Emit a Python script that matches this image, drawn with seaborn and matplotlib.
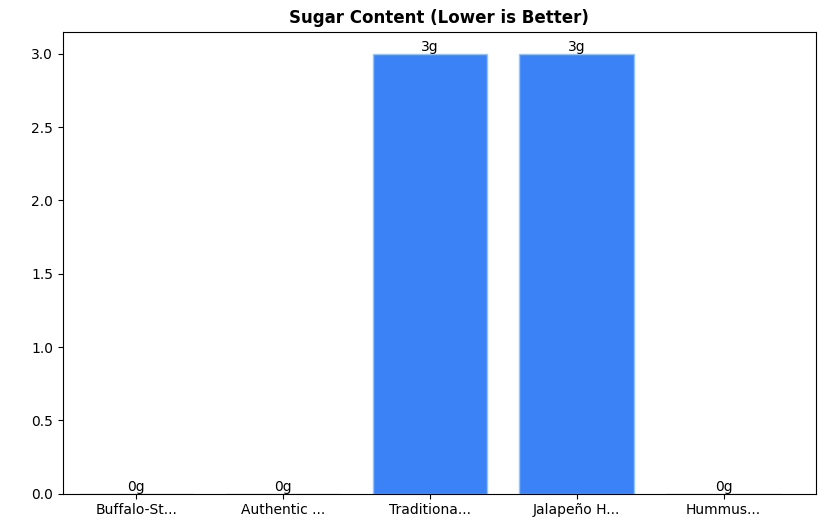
import matplotlib
matplotlib.use("Agg")
import matplotlib.pyplot as plt
import seaborn as sns
import pandas as pd

categories = ["Buffalo-St...", "Authentic ...", "Traditiona...", "Jalapeño H...", "Hummus..."]
sugar = [0, 0, 3, 3, 0]
labels = ["0g", "0g", "3g", "3g", "0g"]

df = pd.DataFrame({"name": categories, "sugar": sugar})
fig, ax = plt.subplots(figsize=(8.26, 5.28), dpi=100)
sns.barplot(data=df, x="name", y="sugar", color="#3b82f6", saturation=1,
            edgecolor="#93c5fd", linewidth=1, width=0.78, ax=ax)
for p, lab in zip(ax.patches, labels):
    ax.annotate(lab, (p.get_x() + p.get_width() / 2, p.get_height()),
                ha="center", va="bottom", fontsize=10)
ax.set_xlim(-0.5, 4.63)
ax.set_title("Sugar Content (Lower is Better)", fontweight="bold", fontsize=12)
ax.set_xlabel("")
ax.set_ylabel("")
fig.subplots_adjust(left=0.076, right=0.988, top=0.94, bottom=0.065)
fig.savefig("out.png", dpi=100)
